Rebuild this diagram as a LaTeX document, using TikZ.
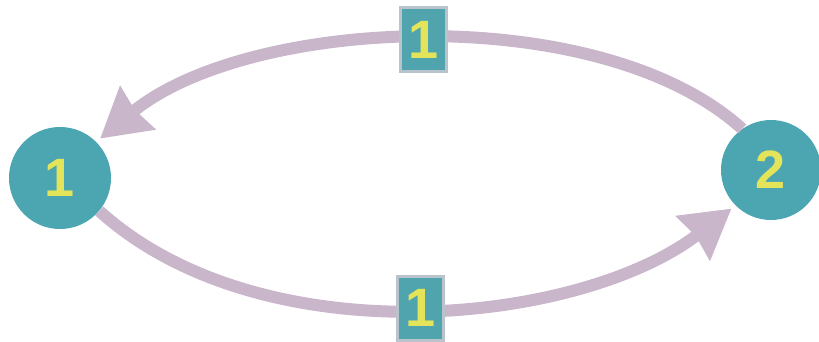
\documentclass[tikz,border=0pt]{standalone}
\usepackage{fontspec}
\setmainfont{Liberation Sans}
\usetikzlibrary{arrows.meta}
\definecolor{teal1}{HTML}{4BA6B2}
\definecolor{boxfill}{HTML}{4FA4AE}
\definecolor{boxedge}{HTML}{B9C3CC}
\definecolor{arc}{HTML}{C9B6CB}
\definecolor{digit}{HTML}{E4E45A}
\tikzset{
  state/.style={circle, fill=teal1, minimum size=#1, inner sep=0pt,
    text=digit, font=\fontsize{54}{54}\selectfont\bfseries},
  weight/.style={rectangle, fill=boxfill, draw=boxedge, line width=3pt,
    minimum width=46pt, minimum height=64pt, inner sep=0pt,
    text=digit, font=\fontsize{54}{54}\selectfont\bfseries},
  link/.style={draw=arc, line width=12pt,
    -{Stealth[length=48pt,width=54pt,inset=3pt]}, shorten >=5pt}
}
\begin{document}
\begin{tikzpicture}[x=1pt,y=-1pt]
\useasboundingbox (0,0) rectangle (819,342);
\node[state=102pt] (n1) at (60,178) {1};
\node[state=100pt] (n2) at (771,170) {2};
\draw[link] (n2.125) .. controls (600,0) and (250,16) .. (n1.45)
  node[pos=0.5, weight] (w1) {1};
\draw[link] (n1.-40) .. controls (262,358) and (580,325) .. (n2.225)
  node[pos=0.5, weight] (w2) {1};
\end{tikzpicture}
\end{document}
